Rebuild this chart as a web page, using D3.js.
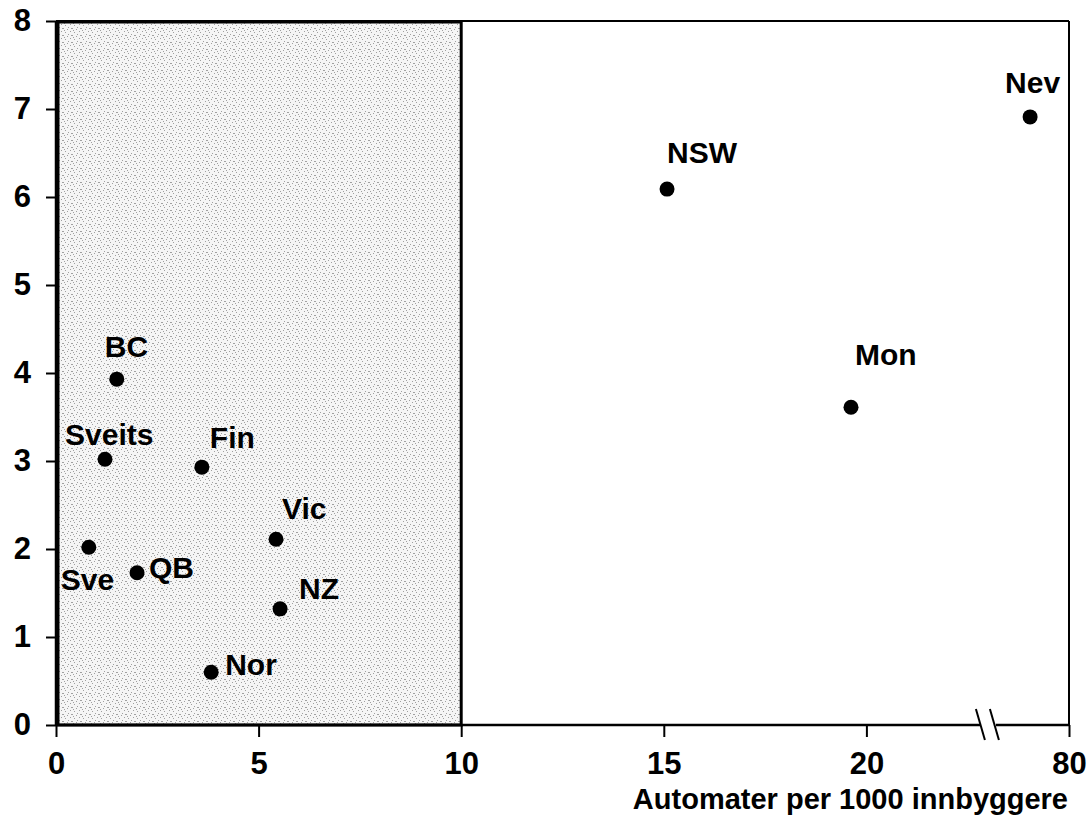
<!DOCTYPE html>
<html><head><meta charset="utf-8">
<script src="https://cdn.jsdelivr.net/npm/d3@7"></script>
<style>
html,body{margin:0;padding:0;background:#fff;}
svg{display:block;font-family:"Liberation Sans",Arial,sans-serif;font-weight:bold;}
</style></head>
<body>
<svg id="chart" width="1089" height="827"></svg>
<script>
// ---- data ----
const names  = ["BC", "Sveits", "Fin", "Vic", "Sve", "QB", "NZ", "Nor", "NSW", "Mon", "Nev"];
const xVals  = [1.50, 1.21, 3.60, 5.43, 0.81, 2.00, 5.53, 3.83, 15.08, 19.62, 24.04];
const yVals  = [3.93, 3.02, 2.93, 2.11, 2.02, 1.73, 1.32, 0.60, 6.09, 3.61, 6.91];
const xTicks = [0, 5, 10, 15, 20, 25];
const xTickLabels = ["0", "5", "10", "15", "20", "80"];
const yTicks = [0, 1, 2, 3, 4, 5, 6, 7, 8];
const shadedRange = [0, 10];
const xTitle = "Automater per 1000 innbyggere";

// ---- layout (pixel offsets of labels from their points) ----
const labelDx = [-12, -40, 8, 6, -28, 12, 19, 14, 0, 4, -25];
const labelDy = [-22, -14, -19, -20, 43, 5, -10, 3, -26, -42, -24];

const svg = d3.select("#chart");
const x = d3.scaleLinear().domain([0, 25]).range([56, 1069]);
const y = d3.scaleLinear().domain([0, 8]).range([725, 21]);

// pattern for shaded area
const defs = svg.append("defs");
const pat = defs.append("pattern").attr("id", "dots").attr("patternUnits", "userSpaceOnUse")
  .attr("width", 9).attr("height", 7);
pat.append("rect").attr("width", 9).attr("height", 7).attr("fill", "#f5f5f5");
[[0,0],[4,1],[7,3],[2,4],[5,6],[8,0],[1,2]].forEach(([a,b]) =>
  pat.append("rect").attr("x", a).attr("y", b).attr("width", 1).attr("height", 1).attr("fill", "#a0a0a0"));

// frame top and right
svg.append("line").attr("x1", x(0)).attr("x2", x(25)).attr("y1", y(8)).attr("y2", y(8))
  .attr("stroke", "#000").attr("stroke-width", 2);
svg.append("line").attr("x1", x(25)).attr("x2", x(25)).attr("y1", y(8)).attr("y2", y(0))
  .attr("stroke", "#000").attr("stroke-width", 2);

// shaded region
svg.append("rect")
  .attr("x", x(shadedRange[0]) + 2).attr("y", y(8) + 1)
  .attr("width", x(shadedRange[1]) - x(shadedRange[0]) - 2)
  .attr("height", y(0) - y(8) - 1)
  .attr("fill", "url(#dots)").attr("stroke", "#000").attr("stroke-width", 3);

// axes
const yAxis = d3.axisLeft(y).tickValues(yTicks).tickSize(10).tickPadding(15).tickFormat(d3.format("d"));
const gy = svg.append("g").attr("transform", `translate(${x(0)},0)`).call(yAxis);
const xAxis = d3.axisBottom(x).tickValues(xTicks).tickSize(12).tickPadding(15)
  .tickFormat((d, i) => xTickLabels[i]);
const gx = svg.append("g").attr("transform", `translate(0,${y(0)})`).call(xAxis);
[gx, gy].forEach(g => {
  g.select(".domain").attr("stroke", "#000").attr("stroke-width", 2.5);
  g.selectAll(".tick line").attr("stroke", "#000").attr("stroke-width", 2);
  g.selectAll(".tick text").attr("fill", "#000").style("font-size", "31px")
    .style("font-family", "'Liberation Sans',Arial,sans-serif").style("font-weight", "bold");
});
gy.select(".domain").attr("d", `M0,${y(8)}V${y(0)}`);
gx.select(".domain").attr("d", `M${x(0)},0H${x(25)}`);

// axis break
const bx = x(22.9);
svg.append("rect").attr("x", bx - 3).attr("y", y(0) - 3).attr("width", 15).attr("height", 6).attr("fill", "#fff");
[0, 14].forEach(o => svg.append("line")
  .attr("x1", bx - 8 + o).attr("y1", y(0) - 16).attr("x2", bx + 1 + o).attr("y2", y(0) + 15)
  .attr("stroke", "#000").attr("stroke-width", 2));

// axis title
svg.append("text").attr("x", 1068).attr("y", 809).attr("text-anchor", "end")
  .style("font-size", "29px").attr("fill", "#000").text(xTitle);

// points
svg.append("g").selectAll("circle").data(names).join("circle")
  .attr("cx", (d, i) => x(xVals[i])).attr("cy", (d, i) => y(yVals[i]))
  .attr("r", 7.5).attr("fill", "#000");

// labels
svg.append("g").selectAll("text").data(names).join("text")
  .attr("x", (d, i) => x(xVals[i]) + labelDx[i])
  .attr("y", (d, i) => y(yVals[i]) + labelDy[i])
  .style("font-size", "30px").attr("fill", "#000").text(d => d);
</script>
</body></html>
